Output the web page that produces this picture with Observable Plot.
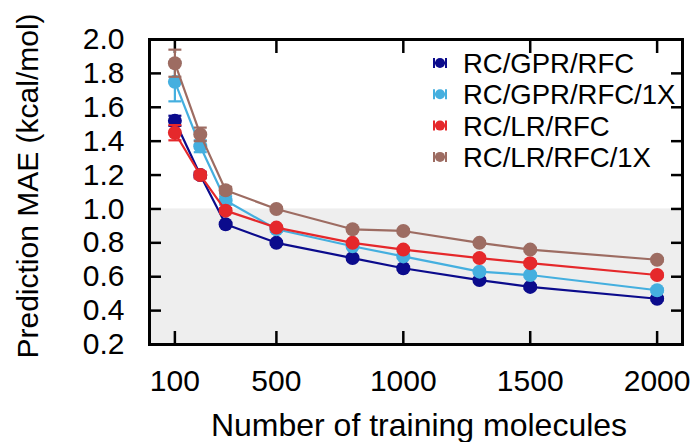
<!DOCTYPE html>
<html>
<head>
<meta charset="utf-8">
<script src="https://cdn.jsdelivr.net/npm/d3@7"></script>
<script src="https://cdn.jsdelivr.net/npm/@observablehq/plot@0.6"></script>
<style>
  body { margin: 0; background: #fff; }
  #chart { position: relative; width: 699px; height: 442px; }
  #legend { position: absolute; left: 0; top: 0; pointer-events: none; }
</style>
</head>
<body>
<div id="chart"></div>
<script>
// Training-set sizes (x) and the four model variants
const sizes = [100, 200, 300, 500, 800, 1000, 1300, 1500, 2000];
const seriesNames = ["RC/GPR/RFC", "RC/GPR/RFC/1X", "RC/LR/RFC", "RC/LR/RFC/1X"];
const seriesColors = ["#0b0b8c", "#45afdf", "#e5282b", "#9d6c62"];

// Prediction MAE (kcal/mol) per series
const maeGprRfc   = [1.52, 1.20, 0.91, 0.80, 0.71, 0.65, 0.58, 0.54, 0.47];
const maeGprRfc1X = [1.75, 1.37, 1.05, 0.88, 0.78, 0.72, 0.63, 0.61, 0.52];
const maeLrRfc    = [1.45, 1.20, 0.99, 0.89, 0.80, 0.76, 0.71, 0.68, 0.61];
const maeLrRfc1X  = [1.86, 1.44, 1.11, 1.00, 0.88, 0.87, 0.80, 0.76, 0.70];

// Standard deviations (error bars)
const errGprRfc   = [0.03, 0.015, 0.01, 0.01, 0.01, 0.01, 0.01, 0.01, 0.01];
const errGprRfc1X = [0.115, 0.035, 0.025, 0.015, 0.01, 0.01, 0.01, 0.01, 0.01];
const errLrRfc    = [0.045, 0.02, 0.015, 0.01, 0.01, 0.01, 0.01, 0.01, 0.01];
const errLrRfc1X  = [0.08, 0.04, 0.02, 0.01, 0.01, 0.01, 0.01, 0.01, 0.01];

// Axes
const xDomain = [0, 2100];
const xTicks = [100, 500, 1000, 1500, 2000];
const yDomain = [0.2, 2.0];
const yTicks = [0.2, 0.4, 0.6, 0.8, 1.0, 1.2, 1.4, 1.6, 1.8, 2.0];
const xLabel = "Number of training molecules";
const yLabel = "Prediction MAE (kcal/mol)";
const chemicalAccuracy = 1.0; // shaded band below this MAE

const maeSeries = [maeGprRfc, maeGprRfc1X, maeLrRfc, maeLrRfc1X];
const errSeries = [errGprRfc, errGprRfc1X, errLrRfc, errLrRfc1X];

const rows = seriesNames.flatMap((name, s) =>
  sizes.map((n, i) => ({
    series: name,
    n,
    mae: maeSeries[s][i],
    lo: maeSeries[s][i] - errSeries[s][i],
    hi: maeSeries[s][i] + errSeries[s][i]
  }))
);

// horizontal cap used at the ends of each error bar
const capSymbol = {
  draw(context, size) {
    const w = Math.sqrt(size / Math.PI);
    context.moveTo(-w, 0);
    context.lineTo(w, 0);
  }
};

const font = "'Liberation Sans', Arial, Helvetica, sans-serif";
const color = {domain: seriesNames, range: seriesColors};

const chart = Plot.plot({
  width: 699,
  height: 442,
  marginLeft: 149,
  marginRight: 17,
  marginTop: 39,
  marginBottom: 98,
  style: {fontFamily: font, fontSize: "30px", color: "#000", background: "#fff", overflow: "visible"},
  x: {domain: xDomain},
  y: {domain: yDomain},
  color,
  marks: [
    Plot.rect([{x1: xDomain[0], x2: xDomain[1], y1: yDomain[0], y2: chemicalAccuracy}],
      {x1: "x1", x2: "x2", y1: "y1", y2: "y2", fill: "#eeeeee"}),
    Plot.axisX({anchor: "bottom", ticks: xTicks, tickSize: -13, tickPadding: 38, strokeWidth: 2.5,
      tickFormat: d3.format("d"), label: null}),
    Plot.axisX({anchor: "top", ticks: xTicks, tickSize: -13, tickFormat: () => "", strokeWidth: 2.5, label: null}),
    Plot.axisY({anchor: "left", ticks: yTicks, tickSize: -12, tickPadding: 37, strokeWidth: 2.5,
      tickFormat: d3.format(".1f"), label: null}),
    Plot.axisY({anchor: "right", ticks: yTicks, tickSize: -12, tickFormat: () => "", strokeWidth: 2.5, label: null}),
    Plot.text([xLabel], {frameAnchor: "bottom", dx: 3, dy: 81, lineAnchor: "middle", textAnchor: "middle", fontSize: 32}),
    Plot.text([yLabel], {frameAnchor: "left", rotate: -90, dx: -121, dy: -6, lineAnchor: "middle", textAnchor: "middle", fontSize: 30}),
    ...seriesNames.flatMap((name) => {
      const d = rows.filter((r) => r.series === name);
      return [
        Plot.line(d, {x: "n", y: "mae", stroke: "series", strokeWidth: 2.2}),
        Plot.ruleX(d, {x: "n", y1: "lo", y2: "hi", stroke: "series", strokeWidth: 2.2}),
        Plot.dot(d, {x: "n", y: "lo", symbol: capSymbol, r: 6.5, stroke: "series", strokeWidth: 2.2}),
        Plot.dot(d, {x: "n", y: "hi", symbol: capSymbol, r: 6.5, stroke: "series", strokeWidth: 2.2}),
        Plot.dot(d, {x: "n", y: "mae", fill: "series", r: 7})
      ];
    }),
    Plot.frame({stroke: "#000", strokeWidth: 3})
  ]
});

const host = document.getElementById("chart");
host.appendChild(chart);

// Legend drawn on top of the plot area
const legend = d3.select(host).append("svg")
  .attr("id", "legend")
  .attr("width", 699)
  .attr("height", 442);

const legendX = 440, legendY = 63, legendStep = 31.3, legendFont = 27.5;
seriesNames.forEach((name, i) => {
  const g = legend.append("g").attr("transform", `translate(${legendX},${legendY + i * legendStep})`);
  const c = seriesColors[i];
  g.append("line").attr("x1", -6).attr("x2", 6).attr("y1", 0).attr("y2", 0).attr("stroke", c).attr("stroke-width", 2);
  g.append("line").attr("x1", -6).attr("x2", -6).attr("y1", -5).attr("y2", 5).attr("stroke", c).attr("stroke-width", 2);
  g.append("line").attr("x1", 6).attr("x2", 6).attr("y1", -5).attr("y2", 5).attr("stroke", c).attr("stroke-width", 2);
  g.append("circle").attr("r", 5).attr("fill", c);
  g.append("text")
    .attr("x", 23)
    .attr("y", legendFont * 0.36)
    .attr("font-family", font)
    .attr("font-size", legendFont)
    .attr("fill", "#000")
    .text(name);
});
</script>
</body>
</html>
